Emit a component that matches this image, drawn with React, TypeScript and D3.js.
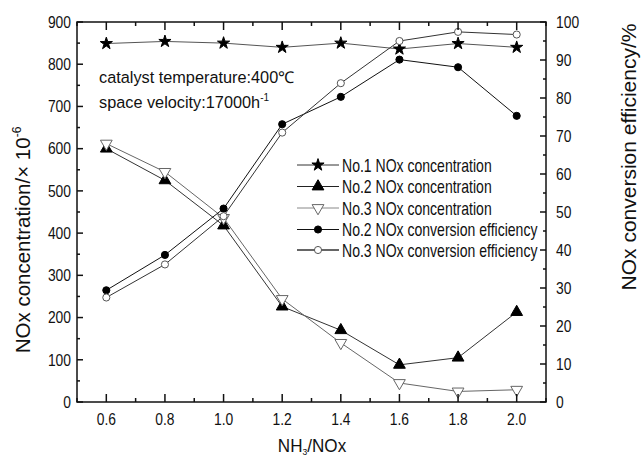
import React from "react";
import * as d3 from "d3";

const ratios = [0.6, 0.8, 1.0, 1.2, 1.4, 1.6, 1.8, 2.0];
const no1Conc = [849, 854, 850, 840, 850, 836, 849, 840];
const no2Conc = [600, 525, 418, 226, 170, 88, 105, 213];
const no3Conc = [612, 545, 436, 244, 140, 45, 25, 29];
const no2Eff = [29.4, 38.7, 50.9, 73.1, 80.3, 90.1, 88.1, 75.3];
const no3Eff = [27.5, 36.2, 48.9, 70.9, 83.9, 95.0, 97.4, 96.7];

const xTicks = [0.6, 0.8, 1.0, 1.2, 1.4, 1.6, 1.8, 2.0];
const xMinor = [0.5, 0.7, 0.9, 1.1, 1.3, 1.5, 1.7, 1.9, 2.1];
const yLeftTicks = [0, 100, 200, 300, 400, 500, 600, 700, 800, 900];
const yRightTicks = [0, 10, 20, 30, 40, 50, 60, 70, 80, 90, 100];

const W = 641, H = 458;
const L = 77, R = 546, T = 22, B = 402;
const FONT = "'Liberation Sans', Arial, sans-serif";
const TICK_FS = 16.3, TICK_SX = 0.85;
const LEG_FS = 18, LEG_SX = 0.78;

type Series = {
  name: string;
  values: number[];
  axis: "left" | "right";
  marker: "star" | "triUp" | "triDown" | "circle";
  fill: string;
  stroke: string;
  line: string;
  legendLine: string;
  legendWidth: number;
};

const series: Series[] = [
  { name: "No.1 NOx concentration", values: no1Conc, axis: "left", marker: "star", fill: "#000", stroke: "#000", line: "#555", legendLine: "#333", legendWidth: 1 },
  { name: "No.2 NOx concentration", values: no2Conc, axis: "left", marker: "triUp", fill: "#000", stroke: "#000", line: "#333", legendLine: "#222", legendWidth: 1 },
  { name: "No.3 NOx concentration", values: no3Conc, axis: "left", marker: "triDown", fill: "#fff", stroke: "#666", line: "#666", legendLine: "#888", legendWidth: 1 },
  { name: "No.2 NOx conversion efficiency", values: no2Eff, axis: "right", marker: "circle", fill: "#000", stroke: "#000", line: "#111", legendLine: "#111", legendWidth: 1.2 },
  { name: "No.3 NOx conversion efficiency", values: no3Eff, axis: "right", marker: "circle", fill: "#fff", stroke: "#555", line: "#333", legendLine: "#666", legendWidth: 2 },
];

function markerPath(m: Series["marker"]): { d: string; rot: number } {
  if (m === "star") return { d: d3.symbol().type(d3.symbolStar).size(46)()!, rot: 0 };
  if (m === "triUp") return { d: d3.symbol().type(d3.symbolTriangle).size(60)()!, rot: 0 };
  if (m === "triDown") return { d: d3.symbol().type(d3.symbolTriangle).size(60)()!, rot: 180 };
  return { d: d3.symbol().type(d3.symbolCircle).size(40)()!, rot: 0 };
}

function SText(props: { x: number; y: number; fs: number; sx: number; anchor?: string; rot?: number; children: React.ReactNode }) {
  const { x, y, fs, sx, anchor, rot, children } = props;
  const tr = `translate(${x},${y})${rot ? ` rotate(${rot})` : ""} scale(${sx},1)`;
  return (
    <text transform={tr} textAnchor={anchor || "start"} fontSize={fs} fill="#111">{children}</text>
  );
}

export default function App() {
  const x = d3.scaleLinear().domain([0.5, 2.1]).range([L, R]);
  const yL = d3.scaleLinear().domain([0, 900]).range([B, T]);
  const yR = d3.scaleLinear().domain([0, 100]).range([B, T]);

  const yLeftMinor = d3.range(50, 900, 100);
  const yRightMinor = d3.range(5, 100, 10);

  const legendX0 = 297, legendX1 = 339, legendMX = 318, legendTX = 342;
  const legendY = [165, 186.5, 208, 229.5, 250];

  return (
    <svg width={W} height={H} style={{ display: "block", position: "absolute", left: 0, top: 0 }} fontFamily={FONT}>
      <rect width={W} height={H} fill="#fff" />
      {series.map((s, i) => {
        const ys = s.axis === "left" ? yL : yR;
        const line = d3.line<number>().x((_, j) => x(ratios[j])).y((v) => ys(v));
        return <path key={"l" + i} d={line(s.values)!} fill="none" stroke={s.line} strokeWidth={1} />;
      })}
      {series.map((s, i) => {
        const ys = s.axis === "left" ? yL : yR;
        const mk = markerPath(s.marker);
        return (
          <g key={"m" + i}>
            {s.values.map((v, j) => (
              <path key={j} d={mk.d} transform={`translate(${x(ratios[j])},${ys(v)}) rotate(${mk.rot})`}
                fill={s.fill} stroke={s.stroke} strokeWidth={1} />
            ))}
          </g>
        );
      })}
      <rect x={L} y={T} width={R - L} height={B - T} fill="none" stroke="#111" strokeWidth={1.5} />
      {xTicks.map((t) => (
        <g key={"xt" + t}>
          <line x1={x(t)} x2={x(t)} y1={B} y2={B - 8} stroke="#111" strokeWidth={1.5} />
          <line x1={x(t)} x2={x(t)} y1={T} y2={T + 8} stroke="#111" strokeWidth={1.5} />
          <SText x={x(t)} y={425} fs={TICK_FS} sx={TICK_SX} anchor="middle">{t.toFixed(1)}</SText>
        </g>
      ))}
      {xMinor.map((t) => (
        <g key={"xm" + t}>
          <line x1={x(t)} x2={x(t)} y1={B} y2={B - 4} stroke="#111" strokeWidth={1.5} />
          <line x1={x(t)} x2={x(t)} y1={T} y2={T + 4} stroke="#111" strokeWidth={1.5} />
        </g>
      ))}
      {yLeftTicks.map((t) => (
        <g key={"yl" + t}>
          <line x1={L} x2={L + 6} y1={yL(t)} y2={yL(t)} stroke="#111" strokeWidth={1.5} />
          <SText x={71} y={yL(t) + 5.8} fs={TICK_FS} sx={TICK_SX} anchor="end">{t}</SText>
        </g>
      ))}
      {yLeftMinor.map((t) => (
        <line key={"ylm" + t} x1={L} x2={L + 3} y1={yL(t)} y2={yL(t)} stroke="#111" strokeWidth={1.5} />
      ))}
      {yRightTicks.map((t) => (
        <g key={"yr" + t}>
          <line x1={R} x2={R - 6} y1={yR(t)} y2={yR(t)} stroke="#111" strokeWidth={1.5} />
          <SText x={556} y={yR(t) + 5.8} fs={TICK_FS} sx={TICK_SX}>{t}</SText>
        </g>
      ))}
      {yRightMinor.map((t) => (
        <line key={"yrm" + t} x1={R} x2={R - 3} y1={yR(t)} y2={yR(t)} stroke="#111" strokeWidth={1.5} />
      ))}
      {/* axis titles */}
      <SText x={312} y={452} fs={18} sx={0.95} anchor="middle">
        NH<tspan fontSize={9} dy={3}>3</tspan><tspan dy={-3}>/NOx</tspan>
      </SText>
      <SText x={30} y={240} fs={20.5} sx={1} rot={-90} anchor="middle">
        NOx concentration/× 10<tspan fontSize={12} dy={-9}>-6</tspan>
      </SText>
      <SText x={636} y={157} fs={21} sx={1} rot={-90} anchor="middle">
        NOx conversion efficiency/%
      </SText>
      {/* annotations */}
      <SText x={99} y={83} fs={16.3} sx={1}>catalyst temperature:400℃</SText>
      <SText x={99} y={108} fs={16.3} sx={1}>
        space velocity:17000h<tspan fontSize={10} dy={-7}>-1</tspan>
      </SText>
      {/* legend */}
      {series.map((s, i) => {
        const mk = markerPath(s.marker);
        const ly = legendY[i];
        return (
          <g key={"lg" + i}>
            <line x1={legendX0} x2={legendX1} y1={ly} y2={ly} stroke={s.legendLine} strokeWidth={s.legendWidth} />
            <path d={mk.d} transform={`translate(${legendMX},${ly}) rotate(${mk.rot})`} fill={s.fill} stroke={s.stroke} strokeWidth={1} />
            <SText x={legendTX} y={ly + 6.5} fs={LEG_FS} sx={LEG_SX}>{s.name}</SText>
          </g>
        );
      })}
    </svg>
  );
}
